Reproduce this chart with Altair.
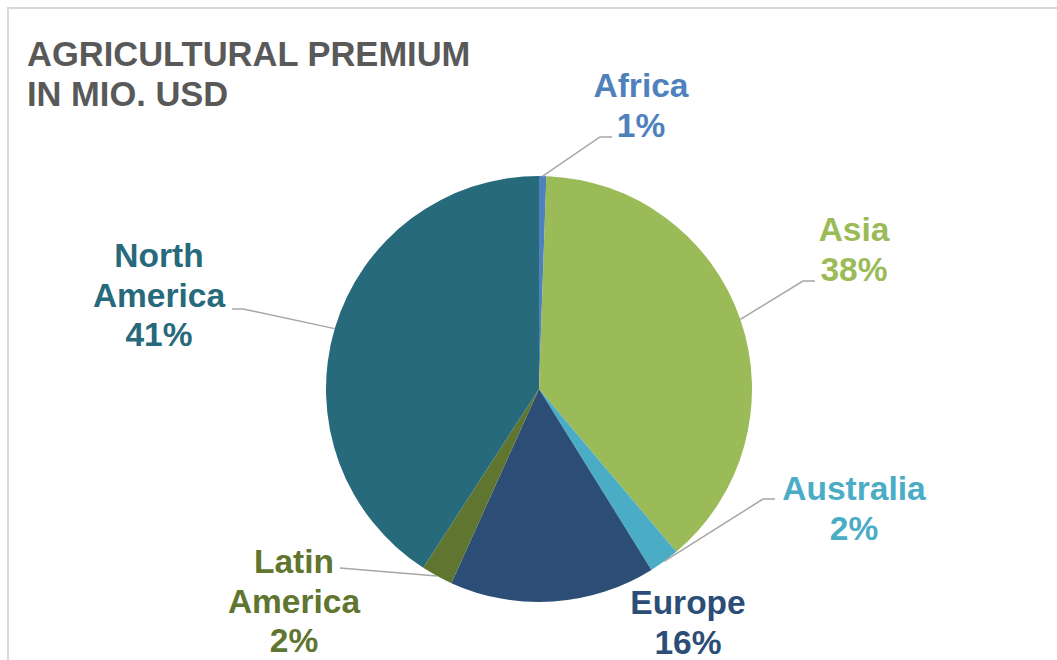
import math
import altair as alt
import pandas as pd

# ---- data (shares of agricultural premium, %) ----
regions = ["Africa", "Asia", "Australia", "Europe", "Latin America", "North America"]
label_names = ["Africa", "Asia", "Australia", "Europe", "Latin\nAmerica", "North\nAmerica"]
shares = [0.55, 38.3, 2.3, 15.6, 2.4, 40.85]
colors = ["#4F81BD", "#9BBB59", "#4BACC6", "#2C4D75", "#5F7530", "#276A7C"]
title_lines = "AGRICULTURAL PREMIUM\nIN MIO. USD"

# ---- layout (pixels) ----
W, H = 1057, 660
CX, CY, R = 539, 389, 213
LABEL_POS = {  # centre of the first line of each label
    "Africa": (641, 87), "Asia": (854, 231), "Australia": (854, 490),
    "Europe": (688, 604), "Latin America": (294, 563), "North America": (159, 257),
}
LEADER_END = {  # elbow, end of leader line
    "Africa": [(600, 137), (612, 137)],
    "Asia": [(803, 281), (815, 281)],
    "Australia": [(763, 499), (775, 499)],
    "Latin America": [(352, 569), (340, 568)],
    "North America": [(243, 309), (232, 309)],
}

total = sum(shares)
pie = pd.DataFrame({"region": regions, "share": shares, "order": range(len(regions))})

labels = pd.DataFrame({
    "region": regions,
    "text": [f"{n}\n{round(s / total * 100)}%" for n, s in zip(label_names, shares)],
    "x": [LABEL_POS[r][0] for r in regions],
    "y": [LABEL_POS[r][1] for r in regions],
})

rows = []
cum = 0.0
for r, s in zip(regions, shares):
    mid = (cum + s / 2) / total * 2 * math.pi
    cum += s
    if r in LEADER_END:
        sx = CX + R * math.sin(mid)
        sy = CY - R * math.cos(mid)
        pts = [(sx, sy)] + LEADER_END[r]
        for i, (px, py) in enumerate(pts):
            rows.append({"region": r, "i": i, "x": px, "y": py})
leaders = pd.DataFrame(rows)

xs = alt.Scale(domain=[0, W], range=[0, W])
ys = alt.Scale(domain=[0, H], range=[0, H])
cscale = alt.Scale(domain=regions, range=colors)

frame = alt.Chart(pd.DataFrame({"a": [0]})).mark_rect(
    fill=None, stroke="#d9d9d9", strokeWidth=2, clip=True
).encode(x=alt.value(8), y=alt.value(8), x2=alt.value(W + 20), y2=alt.value(H + 20))

shadow = alt.Chart(pd.DataFrame({"a": [1]})).mark_arc(
    outerRadius=R + 3, color="#000000", opacity=0.07
).encode(theta=alt.Theta("a:Q"), x=alt.value(CX + 1), y=alt.value(CY + 2))

arcs = alt.Chart(pie).mark_arc(outerRadius=R).encode(
    theta=alt.Theta("share:Q", stack=True),
    color=alt.Color("region:N", scale=cscale, legend=None),
    order=alt.Order("order:Q"),
    x=alt.value(CX), y=alt.value(CY),
)

lines = alt.Chart(leaders).mark_line(color="#a6a6a6", strokeWidth=1.5).encode(
    x=alt.X("x:Q", scale=xs, axis=None),
    y=alt.Y("y:Q", scale=ys, axis=None),
    detail="region:N",
    order="i:Q",
)

texts = alt.Chart(labels).mark_text(
    font="Liberation Sans", fontWeight="bold", fontSize=33.5,
    lineBreak="\n", lineHeight=39.5, align="center", baseline="middle",
).encode(
    x=alt.X("x:Q", scale=xs, axis=None),
    y=alt.Y("y:Q", scale=ys, axis=None),
    text="text:N",
    color=alt.Color("region:N", scale=cscale, legend=None),
)

title = alt.Chart(pd.DataFrame({"t": [title_lines]})).mark_text(
    font="Liberation Sans", fontWeight="bold", fontSize=34.5, color="#595959",
    lineBreak="\n", lineHeight=40, align="left", baseline="alphabetic",
).encode(x=alt.value(27), y=alt.value(66), text="t:N")

chart = alt.layer(frame, shadow, arcs, lines, texts, title).properties(
    width=W, height=H, padding=0, autosize="none"
).configure_view(stroke=None)

chart.save("out.html", embed_options={"renderer": "svg", "actions": False})
